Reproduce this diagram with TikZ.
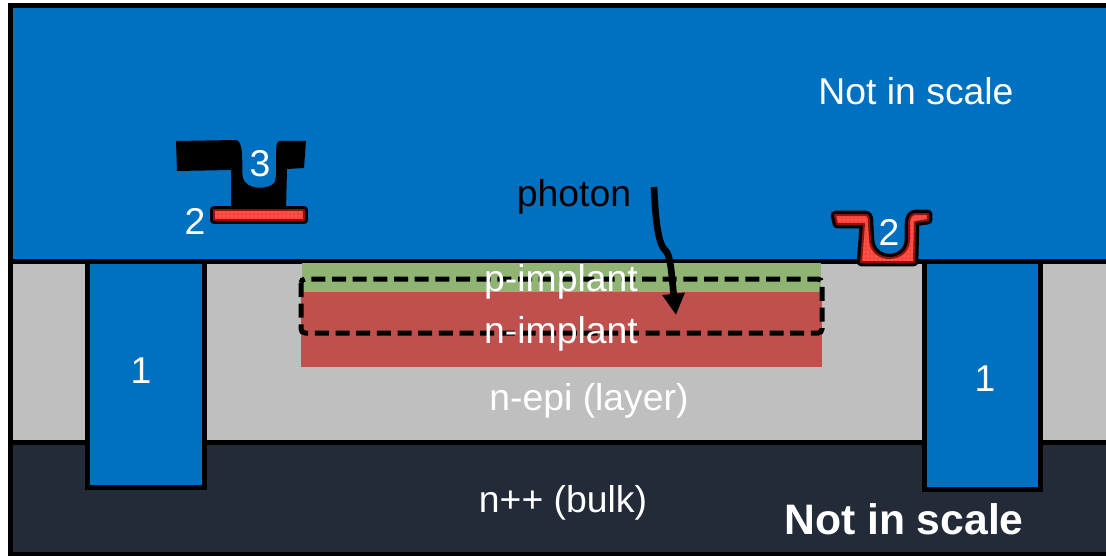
\documentclass[tikz,border=0pt]{standalone}
\usepackage{fontspec}
\setmainfont{Liberation Sans}
\usepackage{tikz}
\usetikzlibrary{arrows.meta,patterns}
\definecolor{oxideblue}{RGB}{0,112,192}
\definecolor{epigray}{RGB}{191,191,191}
\definecolor{bulkdark}{RGB}{35,43,56}
\definecolor{pgreen}{RGB}{143,180,115}
\definecolor{nred}{RGB}{192,80,77}
\definecolor{metalred}{RGB}{250,70,60}
\definecolor{metaldark}{RGB}{150,15,15}

\begin{document}
\begin{tikzpicture}[
    x=0.75pt, y=-0.75pt,
    % --- shape styles ---
    layer/.style={draw=black, line width=3.75pt, line join=miter},
    metal/.style={draw=metaldark, line width=1.5pt, line join=round,
      preaction={draw=black, line width=6.5pt, line join=round},
      preaction={fill=metalred},
      preaction={pattern=dots, pattern color=white!45!metalred}},
    via/.style={fill=black, draw=none},
    % --- text styles ---
    lbl/.style={font=\fontsize{28pt}{30pt}\selectfont, text=white, inner sep=0pt},
    photonlbl/.style={lbl, text=black},
    arr/.style={-{Triangle[length=16pt,width=16pt]}, line width=5pt, draw=black},
    dashbox/.style={line width=3.75pt, dash pattern=on 10.5pt off 5pt, rounded corners=3pt},
  ]
  \useasboundingbox (0,0) rectangle (1106,556);

  % ============== LAYERS ==============
  \fill[white] (0,0) rectangle (1106,556);
  \path[layer, fill=oxideblue] (10.5,5.5) rectangle (1116,261);
  \path[layer, fill=epigray] (10.5,261) rectangle (1116,442.5);
  \path[layer, fill=bulkdark] (10.5,442.5) rectangle (1116,554);

  % ============== IMPLANTS ==============
  \fill[pgreen] (302,263) rectangle (821,292);
  \fill[nred] (301,292) rectangle (822,367);

  % ============== TRENCHES ==============
  \path[layer, fill=oxideblue] (87.5,261) rectangle (204,487);
  \path[layer, fill=oxideblue] (924.5,261) rectangle (1040.5,489.5);

  % ============== METAL LEFT ==============
  \path[metal] (214,210) rectangle (304,220);
  \path[via] (176,141) -- (236,140) .. controls (245,141) and (241,170) .. (243,178)
    .. controls (246,190) and (268,190) .. (274,183)
    .. controls (279,176) and (273,142) .. (279,141) -- (306,141) -- (304,168) -- (287,169)
    -- (286,209) -- (231,209) -- (231,170) -- (177,171) -- cycle;

  % ============== METAL RIGHT ==============
  \path[metal] (835,215) -- (866,215) .. controls (869,215) and (869,220) .. (869,224)
    -- (870,240) .. controls (871,264) and (908,264) .. (909,240)
    -- (909,225) .. controls (909,216) and (912,214) .. (916,214) -- (928,214)
    -- (928,220) -- (915,222) -- (914,262) -- (861,262) -- (864,224) -- (837,224) -- cycle;

  % ============== PHOTON PATH ==============
  \draw[arr] (654,187) .. controls (655,210) and (657,243) .. (665,250)
    .. controls (671,254) and (672,280) .. (676,315);
  \draw[dashbox] (301,279) rectangle (822,333);

  % ============== LABELS ==============
  \node[lbl] (notscaletop) at (916,91) {Not in scale};
  \node[lbl] (three) at (260,164) {3};
  \node[lbl] (twoleft) at (195,221) {2};
  \node[lbl] (tworight) at (889,232) {2};
  \node[photonlbl] (photon) at (574,197) {photon};
  \node[lbl] (pimp) at (561,282) {p-implant};
  \node[lbl] (nimp) at (561,334) {n-implant};
  \node[lbl] (oneleft) at (141,371) {1};
  \node[lbl] (oneright) at (985,379) {1};
  \node[lbl] (epi) at (589,401) {n-epi (layer)};
  \node[lbl] (bulk) at (563,503) {n++ (bulk)};
  \node[lbl, font=\fontsize{32pt}{34pt}\selectfont\bfseries] (notscalebot) at (904,519) {Not in scale};
\end{tikzpicture}
\end{document}
